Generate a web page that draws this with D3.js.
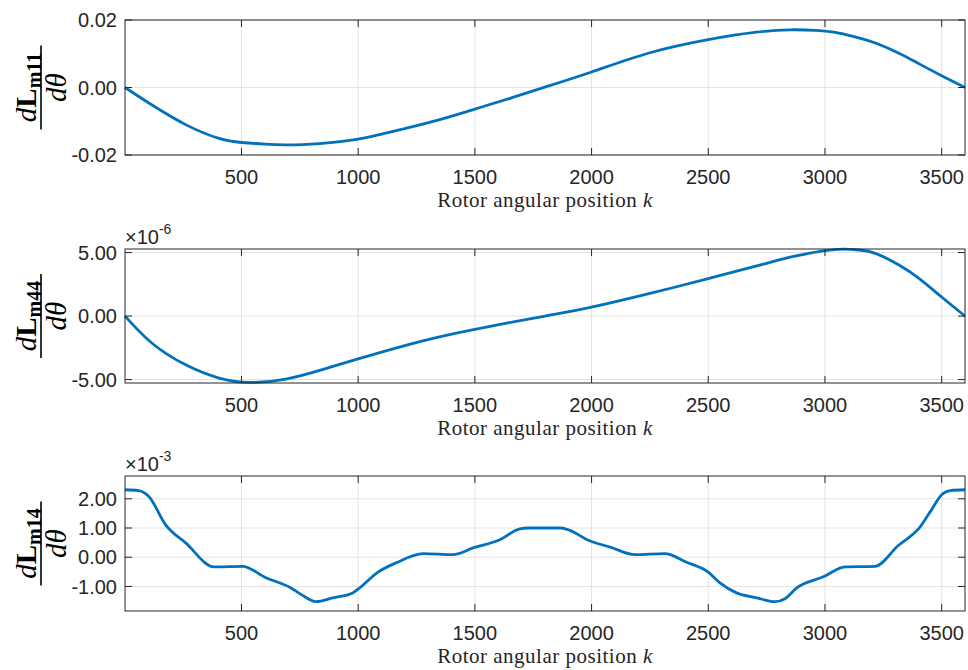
<!DOCTYPE html>
<html><head><meta charset="utf-8">
<script src="https://cdn.jsdelivr.net/npm/d3@7"></script>
<style>body{margin:0;background:#fff}svg{display:block}</style>
</head><body>
<svg id="c" width="968" height="670"></svg>
<script>
// ---- data ----
const xTicks = [500,1000,1500,2000,2500,3000,3500];
const xDomain = [1,3600];
const xLabel = "Rotor angular position ";

const k1 = [1,117,261,404,500,600,705,834,1000,1192,1350,1500,1650,1800,2000,2250,2500,2707,2850,2960,3060,3150,3219,3319,3404,3500,3600];
const v1 = [0,-0.0052,-0.011,-0.0151,-0.0163,-0.0168,-0.0170,-0.0166,-0.0153,-0.0123,-0.0095,-0.0064,-0.0032,0.0001,0.0046,0.0103,0.0142,0.0164,0.0171,0.0169,0.0161,0.0146,0.0131,0.0101,0.0070,0.0035,0];
const yTicks1 = [-0.02,0,0.02];
const yTickLabels1 = ["-0.02","0.00","0.02"];

const k2 = [1,117,261,404,533,690,850,1000,1264,1500,1800,2000,2250,2500,2750,2861,3000,3079,3147,3219,3319,3404,3500,3600];
const v2 = [0,-2.14,-3.84,-4.88,-5.22,-4.96,-4.20,-3.37,-2.01,-1.04,0.0,0.70,1.78,2.95,4.15,4.68,5.15,5.27,5.20,4.92,4.00,2.95,1.50,0]; // x 1e-6
const yTicks2 = [-5,0,5];
const yTickLabels2 = ["-5.00","0.00","5.00"];

const k3 = [1,60,103,175,261,383,504,605,712,755,820,891,977,1006,1085,1163,1278,1407,1493,1607,1693,1729,1800,1871,1907,1986,2079,2186,2314,2407,2500,2550,2621,2707,2786,2829,2879,2993,3086,3214,3314,3407,3457,3500,3536,3600];
const v3 = [2.31,2.28,2.08,1.11,0.49,-0.33,-0.31,-0.70,-1.05,-1.27,-1.52,-1.39,-1.22,-1.05,-0.51,-0.19,0.125,0.09,0.32,0.60,0.97,1.0,1.0,1.0,0.92,0.58,0.35,0.09,0.125,-0.17,-0.51,-0.875,-1.22,-1.39,-1.52,-1.42,-1.05,-0.67,-0.33,-0.31,0.40,1.03,1.63,2.14,2.28,2.31]; // x 1e-3
const yTicks3 = [-1,0,1,2];
const yTickLabels3 = ["-1.00","0.00","1.00","2.00"];

const panels = [
  {k:k1, v:v1, yDomain:[-0.02,0.02], ticks:yTicks1, labels:yTickLabels1, top:20, bottom:155, sub:"m11", exp:null, curve:d3.curveNatural},
  {k:k2, v:v2, yDomain:[-5.27,5.28], ticks:yTicks2, labels:yTickLabels2, top:249, bottom:383, sub:"m44", exp:"-6", curve:d3.curveNatural},
  {k:k3, v:v3, yDomain:[-1.84,2.78], ticks:yTicks3, labels:yTickLabels3, top:476, bottom:611, sub:"m14", exp:"-3", curve:d3.curveMonotoneX}
];

const L = 125, R = 965;
const svg = d3.select("#c");
const axisCol = "#262626", gridCol = "#e3e3e3", lineCol = "#0072BD";
const sans = "'Liberation Sans', Arial, Helvetica, sans-serif";
const serif = "'Liberation Serif', 'DejaVu Serif', serif";
const x = d3.scaleLinear().domain(xDomain).range([L,R]);

panels.forEach(p => {
  const y = d3.scaleLinear().domain(p.yDomain).range([p.bottom,p.top]);
  const g = svg.append("g");
  // grid
  g.selectAll(".gx").data(xTicks).enter().append("line")
    .attr("x1",d=>x(d)).attr("x2",d=>x(d)).attr("y1",p.top).attr("y2",p.bottom)
    .attr("stroke",gridCol).attr("stroke-width",1);
  g.selectAll(".gy").data(p.ticks).enter().append("line")
    .attr("x1",L).attr("x2",R).attr("y1",d=>y(d)).attr("y2",d=>y(d))
    .attr("stroke",gridCol).attr("stroke-width",1);
  // line
  const line = d3.line().x((d,i)=>x(p.k[i])).y(d=>y(d)).curve(p.curve);
  g.append("path").datum(p.v).attr("d",line).attr("fill","none")
    .attr("stroke",lineCol).attr("stroke-width",2.8).attr("stroke-linejoin","round");
  // box
  g.append("rect").attr("x",L).attr("y",p.top).attr("width",R-L).attr("height",p.bottom-p.top)
    .attr("fill","none").attr("stroke",axisCol).attr("stroke-width",1);
  // ticks inward
  const tl = 7;
  xTicks.forEach(t=>{
    g.append("line").attr("x1",x(t)).attr("x2",x(t)).attr("y1",p.bottom).attr("y2",p.bottom-tl).attr("stroke",axisCol);
    g.append("line").attr("x1",x(t)).attr("x2",x(t)).attr("y1",p.top).attr("y2",p.top+tl).attr("stroke",axisCol);
  });
  p.ticks.forEach(t=>{
    g.append("line").attr("x1",L).attr("x2",L+tl).attr("y1",y(t)).attr("y2",y(t)).attr("stroke",axisCol);
    g.append("line").attr("x1",R).attr("x2",R-tl).attr("y1",y(t)).attr("y2",y(t)).attr("stroke",axisCol);
  });
  // tick labels
  g.selectAll(".xl").data(xTicks).enter().append("text")
    .attr("x",d=>x(d)).attr("y",p.bottom+29).attr("text-anchor","middle")
    .attr("font-family",sans).attr("font-size",20).attr("fill",axisCol).text(d=>d);
  g.selectAll(".yl").data(p.ticks).enter().append("text")
    .attr("x",L-8).attr("y",d=>y(d)).attr("dy","0.36em").attr("text-anchor","end")
    .attr("font-family",sans).attr("font-size",20).attr("fill",axisCol).text((d,i)=>p.labels[i]);
  // x label
  const xl = g.append("text").attr("x",(L+R)/2).attr("y",p.bottom+52).attr("text-anchor","middle")
    .attr("font-family",serif).attr("font-size",21).attr("letter-spacing",0.5).attr("fill",axisCol);
  xl.append("tspan").text(xLabel);
  xl.append("tspan").attr("font-style","italic").text("k");
  // exponent
  if (p.exp) {
    const e = g.append("text").attr("x",L).attr("y",p.top-5)
      .attr("font-family",sans).attr("font-size",20).attr("fill",axisCol);
    e.append("tspan").text("\u00d710");
    e.append("tspan").attr("font-size",14).attr("dy",-10).text(p.exp);
  }
  // y label fraction
  const cx = 41, cy = (p.top+p.bottom)/2;
  const f = g.append("g").attr("transform",`translate(${cx},${cy}) rotate(-90)`);
  const num = f.append("text").attr("x",0).attr("y",-5).attr("text-anchor","middle")
    .attr("font-family",serif).attr("fill","#000").attr("font-size",29);
  num.append("tspan").attr("font-style","italic").text("d");
  num.append("tspan").attr("font-weight","bold").text("L");
  num.append("tspan").attr("font-weight","bold").attr("font-size",20).attr("dy",5).text(p.sub);
  f.append("line").attr("x1",-42).attr("x2",42).attr("y1",0).attr("y2",0).attr("stroke","#000").attr("stroke-width",1.6);
  f.append("text").attr("x",0).attr("y",25).attr("text-anchor","middle")
    .attr("font-family",serif).attr("font-style","italic").attr("font-size",29).attr("fill","#000").text("d\u03b8");
});
</script>
</body></html>
